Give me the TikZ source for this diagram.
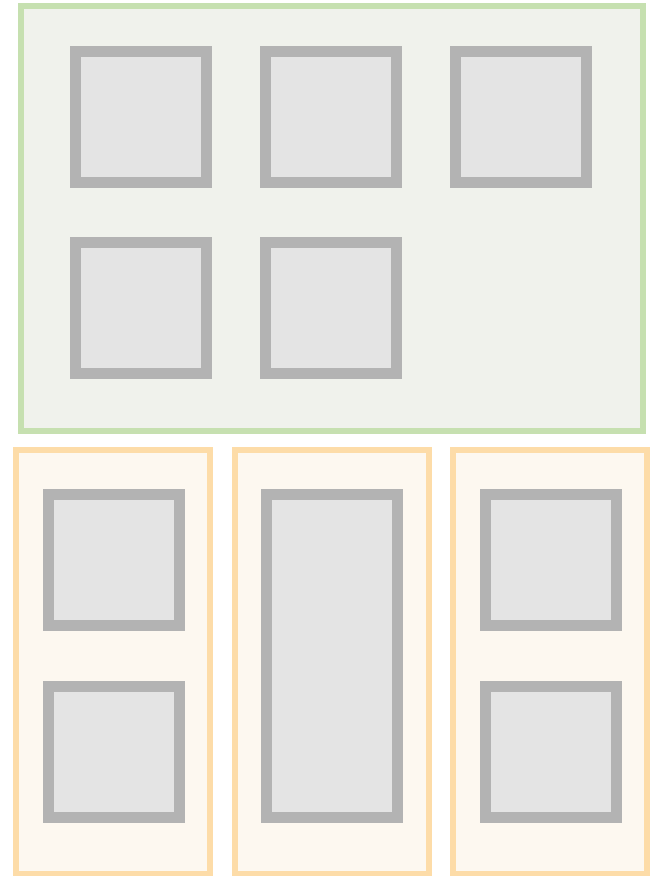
\documentclass[tikz,border=0pt]{standalone}
\usepackage{tikz}
\usetikzlibrary{positioning}
\definecolor{grpgreen}{RGB}{198,224,176}
\definecolor{grpgreenbg}{RGB}{240,242,236}
\definecolor{grporange}{RGB}{253,220,168}
\definecolor{grporangebg}{RGB}{253,248,240}
\definecolor{boxgray}{RGB}{179,179,179}
\definecolor{boxfill}{RGB}{228,228,228}

\tikzset{
  panel/.style={draw=grpgreen, fill=grpgreenbg, line width=6pt, inner sep=0pt, outer sep=0pt, anchor=north west},
  column/.style={draw=grporange, fill=grporangebg, line width=6pt, inner sep=0pt, outer sep=0pt, anchor=north west},
  tile/.style={draw=boxgray, fill=boxfill, line width=11pt, inner sep=0pt, minimum width=131pt, minimum height=131pt}
}

\begin{document}
\begin{tikzpicture}[x=1pt, y=-1pt]
  \useasboundingbox (0,0) rectangle (654,876);

  % Top group
  \node[panel, minimum width=622pt, minimum height=425pt] (top) at (21,6) {};
  \node[tile] (t1) at (141,116.5) {};
  \node[tile] (t2) at (331,116.5) {};
  \node[tile] (t3) at (521,116.5) {};
  \node[tile] (t4) at (141,307.5) {};
  \node[tile] (t5) at (331,307.5) {};

  % Bottom columns
  \node[column, minimum width=194pt, minimum height=424pt] (c1) at (16,450) {};
  \node[column, minimum width=194pt, minimum height=424pt] (c2) at (235,450) {};
  \node[column, minimum width=194pt, minimum height=424pt] (c3) at (453,450) {};

  \node[tile] (b1) at (114,560) {};
  \node[tile] (b2) at (114,752) {};
  \node[tile, minimum height=323pt] (b3) at (332,656) {};
  \node[tile] (b4) at (551,560) {};
  \node[tile] (b5) at (551,752) {};
\end{tikzpicture}
\end{document}
